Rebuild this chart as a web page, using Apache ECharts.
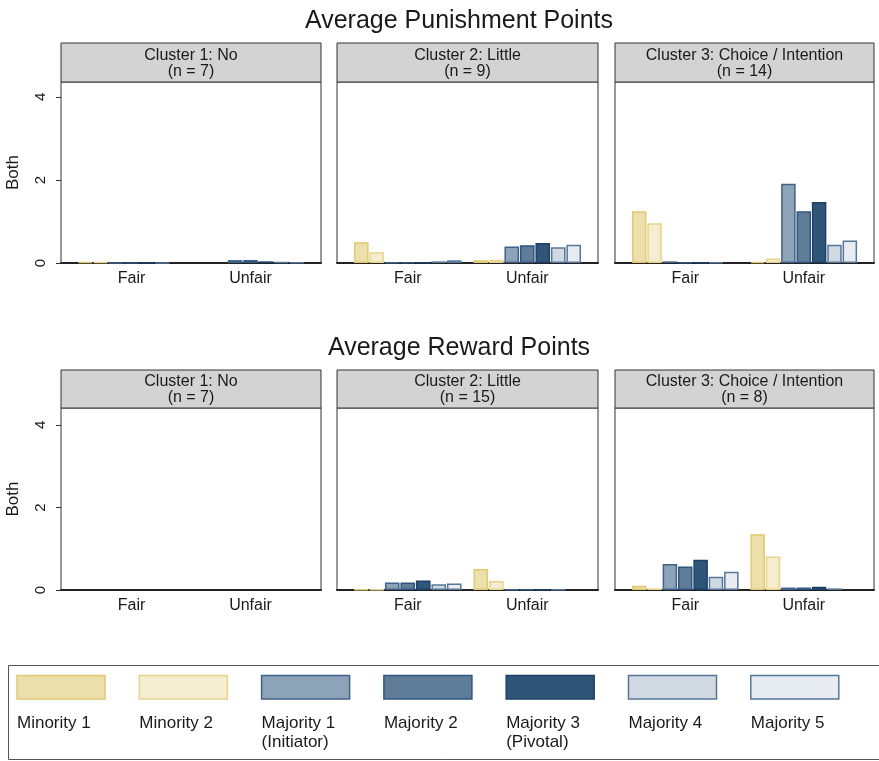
<!DOCTYPE html>
<html>
<head>
<meta charset="utf-8">
<script src="https://cdn.jsdelivr.net/npm/echarts@6/dist/echarts.min.js"></script>
<style>
html,body{margin:0;padding:0;background:#fff}
#main{width:879px;height:761px}
</style>
</head>
<body>
<div id="main"></div>
<script>
// categories and groups
var categories = ['Fair', 'Unfair'];
var groupNames = ['Minority 1', 'Minority 2', 'Majority 1', 'Majority 2', 'Majority 3', 'Majority 4', 'Majority 5'];
var groupLabels = ['Minority 1', 'Minority 2', 'Majority 1\n(Initiator)', 'Majority 2', 'Majority 3\n(Pivotal)', 'Majority 4', 'Majority 5'];
var clusterNames = ['Cluster 1: No', 'Cluster 2: Little', 'Cluster 3: Choice / Intention'];
var punishN = [7, 9, 14];
var rewardN = [7, 15, 8];
var yTicks = [0, 2, 4];

// average punishment points, one value per group (Minority 1 ... Majority 5)
var punFairC1 = [0.02, 0.02, 0.005, 0.005, 0.005, 0.005, 0];
var punUnfairC1 = [0, 0, 0.07, 0.07, 0.04, 0.02, 0.01];
var punFairC2 = [0.50, 0.26, 0.01, 0.01, 0.01, 0.04, 0.065];
var punUnfairC2 = [0.065, 0.08, 0.40, 0.43, 0.48, 0.38, 0.44];
var punFairC3 = [1.245, 0.96, 0.04, 0.01, 0.01, 0.01, 0];
var punUnfairC3 = [0.03, 0.11, 1.91, 1.245, 1.47, 0.44, 0.54];

// average reward points
var rewFairC1 = [0, 0, 0, 0, 0, 0, 0];
var rewUnfairC1 = [0, 0, 0, 0, 0, 0, 0];
var rewFairC2 = [0.01, 0.01, 0.18, 0.18, 0.23, 0.14, 0.16];
var rewUnfairC2 = [0.51, 0.22, 0.01, 0.01, 0.01, 0.01, 0];
var rewFairC3 = [0.10, 0.04, 0.63, 0.57, 0.73, 0.32, 0.44];
var rewUnfairC3 = [1.35, 0.81, 0.06, 0.06, 0.08, 0.04, 0];

var fillColors = ['#EBE0AC', '#F4EDD0', '#8CA3B8', '#5F7C99', '#2F5679', '#D1DAE3', '#E6ECF1'];
var lineColors = ['#E2C86E', '#E8D48A', '#3F628A', '#2F5580', '#1E3F66', '#56779A', '#56779A'];

var FONT = "'Liberation Sans', Arial, sans-serif";
var TXT = '#1a1a1a';

var panelX = [[61, 321], [337, 598], [615, 874]];
var rows = [
	{ title: 'Average Punishment Points', titleTop: 4, headTop: 43, plotTop: 82, zero: 263, max: 4.36,
	  n: punishN, fair: [punFairC1, punFairC2, punFairC3], unfair: [punUnfairC1, punUnfairC2, punUnfairC3] },
	{ title: 'Average Reward Points', titleTop: 331, headTop: 370, plotTop: 408, zero: 590, max: 4.41,
	  n: rewardN, fair: [rewFairC1, rewFairC2, rewFairC3], unfair: [rewUnfairC1, rewUnfairC2, rewUnfairC3] }
];

// zero bars get no outline so nothing shows on the baseline
function barItem(v) {
	return v === 0 ? { value: 0, itemStyle: { borderWidth: 0 } } : v;
}

var grids = [], xAxes = [], yAxes = [], series = [], graphics = [], titles = [];

rows.forEach(function (row) {
	titles.push({
		text: row.title, left: 454, top: row.titleTop, textAlign: 'center',
		textStyle: { fontFamily: FONT, fontSize: 25, fontWeight: 'normal', color: TXT }
	});
	panelX.forEach(function (px, c) {
		var x0 = px[0], w = px[1] - px[0];
		var h = row.zero - row.plotTop;

		// frame grid (border, zero line, y ticks)
		var fi = grids.length;
		grids.push({ left: x0, top: row.plotTop, width: w, height: h, show: true,
			borderColor: '#333', borderWidth: 1, backgroundColor: '#fff' });
		xAxes.push({ gridIndex: fi, type: 'category', data: [''],
			axisLine: { show: true, lineStyle: { color: '#222', width: 2 } },
			axisTick: { show: false }, axisLabel: { show: false } });
		yAxes.push({ gridIndex: fi, type: 'value', min: 0, max: row.max, interval: 2,
			name: c === 0 ? 'Both' : '', nameLocation: 'middle', nameGap: 39, nameRotate: 90,
			nameTextStyle: { fontFamily: FONT, fontSize: 17, color: TXT },
			axisLine: { show: false }, splitLine: { show: false },
			axisTick: { show: c === 0, length: 5, customValues: yTicks, lineStyle: { color: '#333' } },
			axisLabel: { show: c === 0, rotate: 90, margin: 13, customValues: yTicks,
				fontFamily: FONT, fontSize: 15, color: TXT } });

		// data grid (bars)
		var di = grids.length;
		grids.push({ left: x0 + 11, top: row.plotTop, width: w - 22, height: h });
		xAxes.push({ gridIndex: di, type: 'category', data: categories,
			axisLine: { show: false }, axisTick: { show: false },
			axisLabel: { margin: 8, fontFamily: FONT, fontSize: 16, color: TXT } });
		yAxes.push({ gridIndex: di, type: 'value', min: 0, max: row.max, show: false });

		groupNames.forEach(function (g, i) {
			series.push({
				name: g, type: 'bar', xAxisIndex: di, yAxisIndex: di,
				barGap: '6%', barCategoryGap: '10%',
				itemStyle: { color: fillColors[i], borderColor: lineColors[i], borderWidth: 1.5 },
				data: [barItem(row.fair[c][i]), barItem(row.unfair[c][i])]
			});
		});

		// strip header
		graphics.push({ type: 'rect', z: 10,
			shape: { x: x0, y: row.headTop, width: w, height: row.plotTop - row.headTop },
			style: { fill: '#D3D3D3', stroke: '#333', lineWidth: 1 } });
		graphics.push({ type: 'text', z: 11, x: x0 + w / 2, y: (row.headTop + row.plotTop) / 2 + 1,
			style: { text: clusterNames[c] + '\n(n = ' + row.n[c] + ')', textAlign: 'center',
				textVerticalAlign: 'middle', font: '16px ' + FONT, lineHeight: 16, fill: TXT } });
	});
});

// legend box
graphics.push({ type: 'rect', shape: { x: 8.5, y: 665.5, width: 880, height: 94 },
	style: { fill: 'none', stroke: '#555', lineWidth: 1 } });
groupLabels.forEach(function (lab, i) {
	var lx = 17 + i * 122.3;
	graphics.push({ type: 'rect', shape: { x: lx, y: 675.5, width: 88, height: 23.5 },
		style: { fill: fillColors[i], stroke: lineColors[i], lineWidth: 1.5 } });
	graphics.push({ type: 'text', x: lx, y: 714,
		style: { text: lab, textAlign: 'left', textVerticalAlign: 'top', font: '17px ' + FONT,
			lineHeight: 19, fill: TXT } });
});

var chart = echarts.init(document.getElementById('main'));
chart.setOption({
	animation: false,
	backgroundColor: '#fff',
	title: titles,
	grid: grids,
	xAxis: xAxes,
	yAxis: yAxes,
	series: series,
	graphic: graphics
});
</script>
</body>
</html>
